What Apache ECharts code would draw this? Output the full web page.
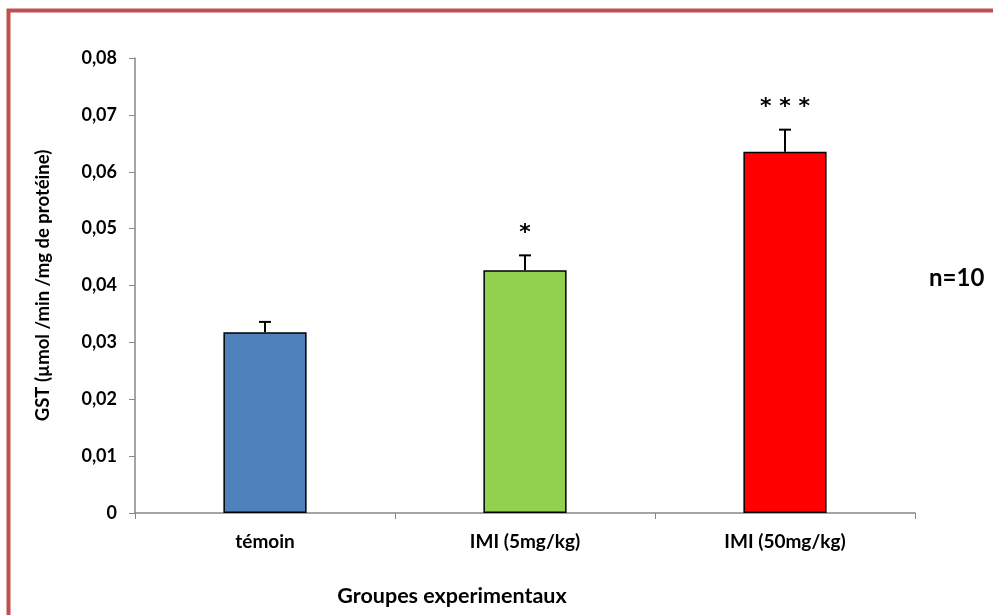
<!DOCTYPE html>
<html><head><meta charset="utf-8">
<script src="https://cdn.jsdelivr.net/npm/echarts@6/dist/echarts.min.js"></script>
<style>html,body{margin:0;padding:0;background:#fff}#c{width:993px;height:615px}</style>
</head><body><div id="c"></div>
<script>
var categories = ['témoin', 'IMI (5mg/kg)', 'IMI (50mg/kg)'];
var values = [0.0318, 0.0427, 0.0635];
var errors = [0.0018, 0.0026, 0.0039];
var stars = ['', '*', '* * *'];
var colors = ['#4F81BD', '#92D050', '#FF0000'];
var yTicks = [0, 0.01, 0.02, 0.03, 0.04, 0.05, 0.06, 0.07, 0.08];

var FONT = 'Lato';
var chart = echarts.init(document.getElementById('c'));
chart.setOption({
  animation: false,
  grid: {left: 135, right: 78, top: 58, bottom: 102},
  graphic: [{
    type: 'rect', shape: {x: 8.5, y: 10.5, width: 1100, height: 800},
    style: {fill: 'none', stroke: '#C0504D', lineWidth: 4}
  }, {
    type: 'text', left: 929, top: 266,
    style: {text: 'n=10', font: 'bold 24px ' + FONT, fill: '#000'}
  }],
  xAxis: {
    type: 'category', data: categories,
    name: 'Groupes experimentaux', nameLocation: 'middle', nameGap: 72,
    nameTextStyle: {fontFamily: FONT, fontWeight: 'bold', fontSize: 21.5, color: '#000', padding: [0, 0, 0, -146]},
    axisLine: {lineStyle: {color: '#868686', width: 1.5}},
    axisTick: {show: true, length: 6, lineStyle: {color: '#868686'}},
    axisLabel: {fontFamily: FONT, fontWeight: 'bold', fontSize: 19, color: '#000', margin: 19}
  },
  yAxis: {
    type: 'value', min: 0, max: 0.08, interval: 0.01,
    name: 'GST (µmol /min /mg de protéine)', nameLocation: 'middle', nameGap: 82,
    nameTextStyle: {fontFamily: FONT, fontWeight: 'bold', fontSize: 18.5, color: '#000'},
    axisLine: {show: true, lineStyle: {color: '#868686', width: 1.5}},
    axisTick: {show: true, length: 6, lineStyle: {color: '#868686'}},
    splitLine: {show: false},
    axisLabel: {fontFamily: FONT, fontWeight: 'bold', fontSize: 18, color: '#000', margin: 18,
      formatter: function (v) { return v === 0 ? '0' : v.toFixed(2).replace('.', ','); }}
  },
  series: [{
    type: 'bar', barWidth: '32%',
    data: values.map(function (v, i) { return {value: v, itemStyle: {color: colors[i]}}; }),
    itemStyle: {borderColor: '#000', borderWidth: 1.5}
  }, {
    type: 'custom',
    data: values.map(function (v, i) { return [i, v, errors[i]]; }),
    renderItem: function (params, api) {
      var i = api.value(0), v = api.value(1), e = api.value(2);
      var base = api.coord([i, v]);
      var top = api.coord([i, v + e]);
      var s = params.dataIndex;
      var children = [
        {type: 'line', shape: {x1: base[0], y1: base[1], x2: top[0], y2: top[1]}, style: {stroke: '#000', lineWidth: 2}},
        {type: 'line', shape: {x1: top[0] - 6, y1: top[1], x2: top[0] + 6, y2: top[1]}, style: {stroke: '#000', lineWidth: 2}}
      ];
      if (stars[s]) {
        children.push({type: 'text', x: top[0], y: top[1] - 22,
          style: {text: stars[s], font: 'bold 22px "DejaVu Sans"', fill: '#000', align: 'center', verticalAlign: 'middle'}});
      }
      return {type: 'group', children: children};
    },
    z: 5
  }]
});
</script></body></html>
